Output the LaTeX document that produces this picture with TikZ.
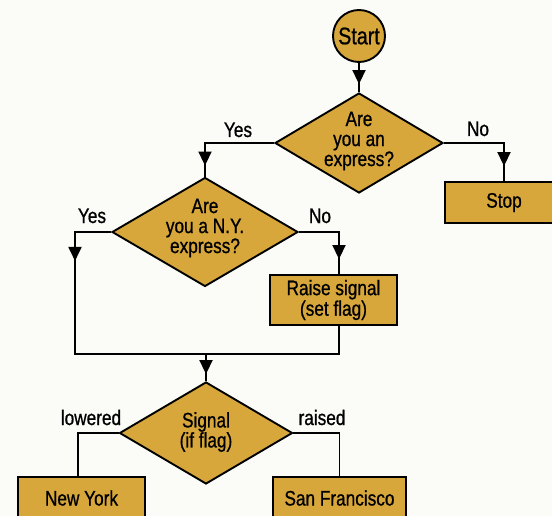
\documentclass[tikz,border=0pt]{standalone}
\usepackage{fontspec}
\setmainfont{Liberation Sans}[FakeStretch=0.82,FakeBold=0.8]
\usetikzlibrary{shapes.geometric,arrows.meta,decorations.markings}
\definecolor{gold}{RGB}{215,167,60}
\definecolor{paper}{RGB}{251,251,247}
\begin{document}
\begin{tikzpicture}[x=1pt,y=-1pt,line width=1.9pt,
  txt/.style={font=\fontsize{21}{20}\selectfont,align=center,inner sep=0pt},
  lbl/.style={font=\fontsize{21}{20}\selectfont,inner sep=0pt,anchor=base},
  dia/.style={diamond,draw,fill=gold,inner sep=0pt},
  box/.style={rectangle,draw,fill=gold,inner sep=0pt,align=center,font=\fontsize{21}{18}\selectfont},
  arr/.style={postaction={decorate},decoration={markings,
      mark=at position #1 with {\arrow{Triangle[width=13pt,length=14pt]}}}}]
\useasboundingbox (0,0) rectangle (552,516);
\clip (0,0) rectangle (552,516);
\fill[paper] (0,0) rectangle (552,516);

% nodes
\node[circle,draw,fill=gold,minimum size=52pt,inner sep=0pt,font=\fontsize{24}{24}\selectfont] (start) at (359,36) {Start};
\node[dia,minimum width=168pt,minimum height=100pt] (d1) at (359,143) {};
\node[txt] (d1t) at (359,141) {Are\\you an\\express?};
\node[box,minimum width=118pt,minimum height=41pt] (stop) at (504,202.5) {Stop};
\node[dia,minimum width=186pt,minimum height=109pt] (d2) at (205,232) {};
\node[txt] (d2t) at (205,228) {Are\\you a N.Y.\\express?};
\node[box,minimum width=127pt,minimum height=50pt] (raise) at (333.5,300) {Raise signal\\(set flag)};
\node[dia,minimum width=173pt,minimum height=102pt] (d3) at (206,433) {};
\node[txt] (d3t) at (206,432) {Signal\\(if flag)};
\node[box,minimum width=127pt,minimum height=42pt] (ny) at (81.5,498) {New York};
\node[box,minimum width=133pt,minimum height=42pt] (sf) at (339.5,498) {San Francisco};

% labels
\node[lbl] (yes1) at (238,137) {Yes};
\node[lbl] (no1) at (478,136) {No};
\node[lbl] (yes2) at (92,223) {Yes};
\node[lbl] (no2) at (320,223) {No};
\node[lbl] (low) at (91,425) {lowered};
\node[lbl] (rai) at (322,425) {raised};

% connectors
\coordinate (jl) at (75,354);
\coordinate (join) at (206,354);
\draw[arr=-8pt] (start.south) -- (d1.north);
\draw[arr=-15pt] (d1.east) -| (stop.north);
\draw[arr=-11pt] (d1.west) -| (d2.north);
\draw[arr=-15pt] (d2.east) -| ([xshift=5.5pt]raise.north);
\draw[arr=65pt] (d2.west) -| (jl) -- (join);
\draw ([xshift=5.5pt]raise.south) |- (join);
\draw[arr=-7pt] (join) -- (d3.north);
\draw (d3.west) -| ([xshift=-3.5pt]ny.north);
\draw (d3.east) -| (sf.north);
\end{tikzpicture}
\end{document}
